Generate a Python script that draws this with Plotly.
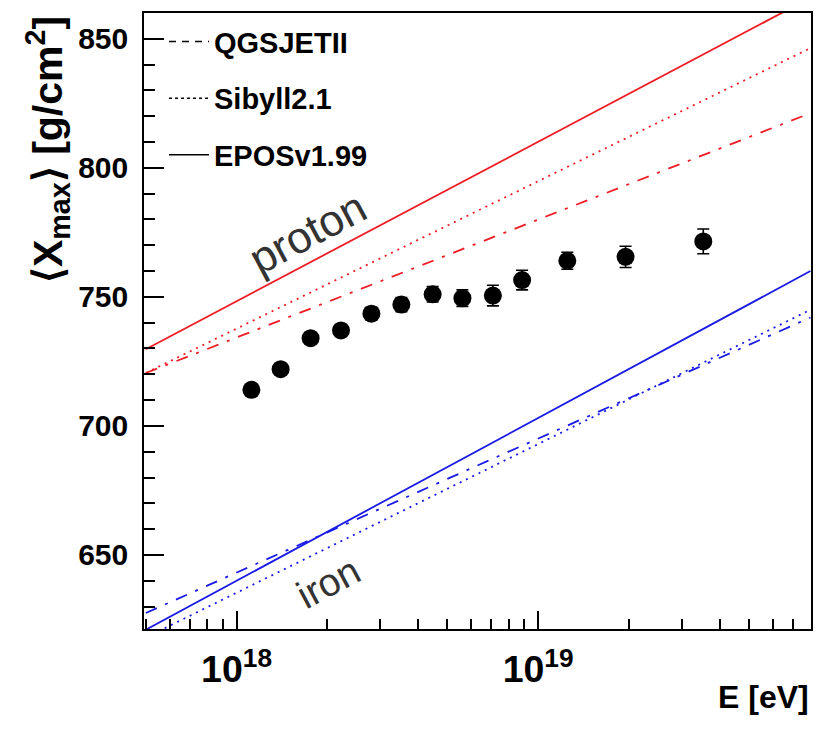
import plotly.graph_objects as go

# ---- data ----
E_data = [1.12e18, 1.40e18, 1.76e18, 2.22e18, 2.80e18, 3.52e18, 4.47e18,
          5.61e18, 7.08e18, 8.85e18, 1.25e19, 1.95e19, 3.53e19]
Xmax_data = [714.0, 722.0, 734.0, 737.0, 743.5, 747.0, 751.0,
             749.5, 750.5, 756.5, 764.0, 765.5, 771.5]
Xmax_err = [2.0, 2.0, 2.2, 2.3, 2.5, 2.7, 3.0, 3.2, 4.0, 3.8, 3.3, 4.1, 4.8]

E_model = [5e17, 8e19]
p_epos = [729.7, 865.9]
p_sibyll = [720.5, 846.4]
p_qgsjet = [720.5, 821.2]
fe_epos = [621.0, 760.0]
fe_sibyll = [618.0, 745.0]
fe_qgsjet = [627.5, 742.0]

legend_names = ["QGSJETII", "Sibyll2.1", "EPOSv1.99"]

RED = "#ee1c25"
BLUE = "#1a1ae6"
DASHDOT = "12px,9px,3px,9px"
DOT = "2px,5px"
FONT = "Liberation Sans, Arial, sans-serif"

fig = go.Figure()

models = [
    (p_qgsjet, RED, DASHDOT), (p_sibyll, RED, DOT), (p_epos, RED, "solid"),
    (fe_qgsjet, BLUE, DASHDOT), (fe_sibyll, BLUE, DOT), (fe_epos, BLUE, "solid"),
]
for vals, col, dash in models:
    fig.add_trace(go.Scatter(x=E_model, y=vals, mode="lines",
                             line=dict(color=col, width=1.8, dash=dash),
                             showlegend=False, hoverinfo="skip"))

# legend entries (black line samples)
leg_dash = ["7px,6px", "3px,3px", "solid"]
for i, (name, d) in enumerate(zip(legend_names, leg_dash)):
    fig.add_trace(go.Scatter(x=[None], y=[None], mode="lines", name=name,
                             legendgroup=f"g{i}",
                             line=dict(color="black", width=1.5, dash=d)))

fig.add_trace(go.Scatter(
    x=E_data, y=Xmax_data, mode="markers",
    marker=dict(color="black", size=18),
    error_y=dict(type="data", array=Xmax_err, color="black", thickness=1.6, width=6),
    showlegend=False))

fig.update_layout(
    width=819, height=731,
    margin=dict(l=144, r=6, t=13, b=102),
    paper_bgcolor="white", plot_bgcolor="white",
    font=dict(family=FONT, color="black"),
    legend=dict(x=0.03, y=0.995, xanchor="left", yanchor="top",
                bgcolor="rgba(0,0,0,0)", tracegroupgap=16,
                traceorder="grouped",
                font=dict(family=FONT, size=29, weight="bold", color="black"),
                itemwidth=40),
)

fig.update_xaxes(
    type="log", range=[17.693, 19.905],
    dtick=1, exponentformat="power", showexponent="all",
    ticks="inside", ticklen=18, tickwidth=1.5, tickcolor="black",
    minor=dict(ticks="inside", ticklen=10, tickwidth=1.5, tickcolor="black",
               dtick="D1", showgrid=False),
    showgrid=False, zeroline=False,
    showline=True, linecolor="black", linewidth=1.6, mirror=True,
    tickfont=dict(family=FONT, size=30, weight="bold", color="black"),
    ticklabelstandoff=8,
)
fig.update_yaxes(
    range=[621.3, 860], tick0=650, dtick=50,
    ticks="inside", ticklen=20, tickwidth=1.5, tickcolor="black",
    minor=dict(ticks="inside", ticklen=11, tickwidth=1.5, tickcolor="black",
               dtick=10, showgrid=False),
    showgrid=False, zeroline=False,
    showline=True, linecolor="black", linewidth=1.6, mirror=True,
    tickfont=dict(family=FONT, size=30, weight="bold", color="black"),
    ticklabelstandoff=8,
)

# axis titles
fig.add_annotation(xref="paper", yref="paper", x=1.0, y=-0.11,
                   xanchor="right", yanchor="middle", showarrow=False,
                   text="<b>E [eV]</b>",
                   font=dict(family=FONT, size=32, color="black"))
fig.add_annotation(xref="paper", yref="paper", x=-0.145, y=0.998,
                   xanchor="center", yanchor="top", showarrow=False,
                   textangle=-90,
                   text="<b>⟨X<sub>max</sub>⟩ [g/cm<sup>2</sup>]</b>",
                   font=dict(family=FONT, size=41, color="black"))

# in-plot labels
fig.add_annotation(x=18.235, y=775.0, xref="x", yref="y", text="proton",
                   showarrow=False, textangle=-28,
                   font=dict(family=FONT, size=44, color="#333333"))
fig.add_annotation(x=18.305, y=639.2, xref="x", yref="y", text="iron",
                   showarrow=False, textangle=-28,
                   font=dict(family=FONT, size=39, color="#333333"))

fig.write_html("out.html")
